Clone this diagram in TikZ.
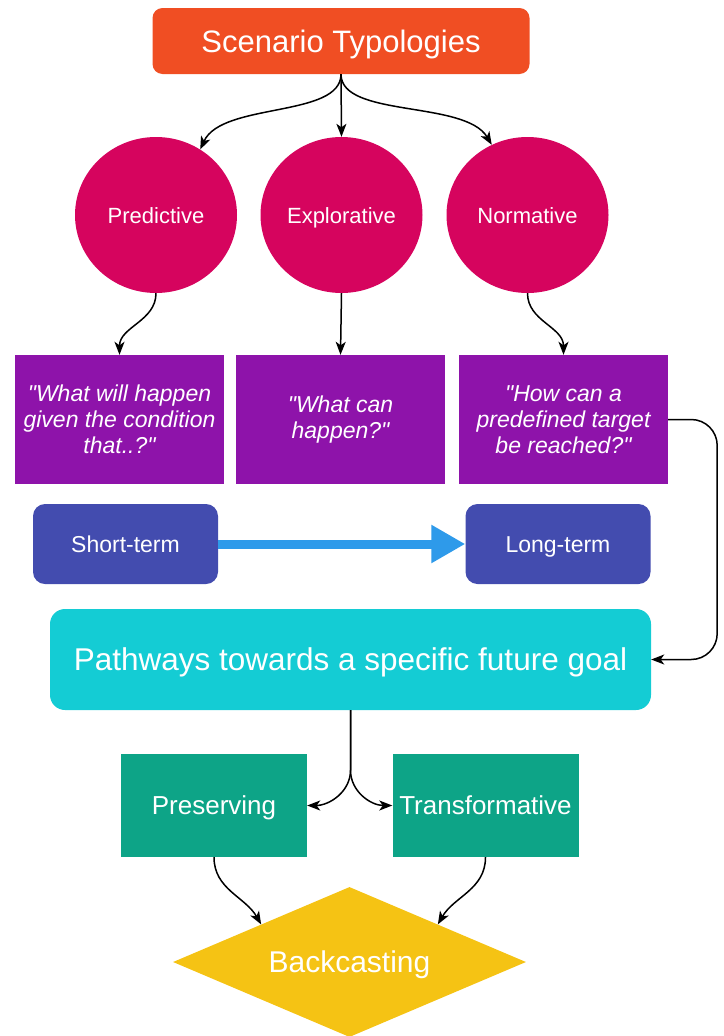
\documentclass[tikz,border=0pt]{standalone}
\usepackage{fontspec}
\setmainfont{Liberation Sans}[Ligatures=TeXOff]
\usepackage{xcolor}
\usetikzlibrary{shapes.geometric,arrows.meta}

\definecolor{typored}{HTML}{F04E23}
\definecolor{typopink}{HTML}{D6045E}
\definecolor{askpurple}{HTML}{8E13AA}
\definecolor{termblue}{HTML}{434CAF}
\definecolor{goalcyan}{HTML}{14CCD4}
\definecolor{optgreen}{HTML}{0DA487}
\definecolor{castyellow}{HTML}{F5C314}
\definecolor{barblue}{HTML}{2E9AEA}

\begin{document}
\begin{tikzpicture}[
    x=1pt, y=1pt,
    head/.style={rectangle, fill=typored, rounded corners=10pt, minimum width=377pt, minimum height=66pt, text=white, text height=22pt, text depth=0pt, font=\fontsize{31}{37}\selectfont},
    typology/.style={ellipse, fill=typopink, minimum width=162pt, minimum height=156pt, inner sep=0pt, text=white, text height=16pt, text depth=0pt, font=\fontsize{22}{26}\selectfont},
    question/.style={rectangle, fill=askpurple, minimum width=209pt, minimum height=129pt, text=white, align=center, font=\fontsize{23}{26}\selectfont\itshape},
    term/.style={rectangle, fill=termblue, rounded corners=12pt, minimum width=185pt, minimum height=80pt, text=white, text height=16.5pt, text depth=0pt, font=\fontsize{23}{27}\selectfont},
    pathway/.style={rectangle, fill=goalcyan, rounded corners=15pt, minimum width=601pt, minimum height=101pt, text=white, text height=22.5pt, text depth=0pt, font=\fontsize{31.5}{37}\selectfont},
    option/.style={rectangle, fill=optgreen, minimum width=186pt, minimum height=103pt, inner sep=0pt, text=white, text height=18.6pt, text depth=0pt, font=\fontsize{26}{31}\selectfont},
    cast/.style={diamond, aspect=2.35, fill=castyellow, minimum width=353pt, minimum height=150pt, inner sep=0pt, text=white, text height=21.5pt, text depth=0pt, font=\fontsize{30}{36}\selectfont},
    link/.style={draw=black, line width=1.5pt, -{Stealth[length=13pt, width=10pt, inset=3.5pt]}},
    bar/.style={draw=barblue, line width=9pt, -{Triangle[length=34pt, width=36pt]}},
]
\useasboundingbox (0,0) rectangle (723,-1036);

% Root
\node[head] (typo) at (341,-41) {Scenario Typologies};

% Typologies
\node[typology] (pred) at (156,-215) {Predictive};
\node[typology] (expl) at (341.5,-215) {Explorative};
\node[typology] (norm) at (527.5,-215) {Normative};

% Guiding questions
\node[question] (q1) at (119.5,-419.5) {"What will happen\\given the condition\\that..?"};
\node[question] (q2) at (340.5,-419.5) {"What can\\happen?"};
\node[question] (q3) at (563.5,-419.5) {"How can a\\predefined target\\be reached?"};

% Time horizon
\node[term] (short) at (125.5,-544) {Short-term};
\node[term] (long) at (558,-544) {Long-term};

% Goal and options
\node[pathway] (goal) at (350.5,-659.5) {Pathways towards a specific future goal};
\node[option] (pres) at (214,-805.5) {Preserving};
\node[option] (trans) at (485.5,-805.5) {Transformative};
\node[cast] (back) at (349.5,-962) {Backcasting};

% Connectors
\draw[link] (typo.south) .. controls (341,-118) and (222,-102) .. (pred.56);
\draw[link] (typo.south) -- (expl.north);
\draw[link] (typo.south) .. controls (341,-118) and (465,-100) .. (norm.117);

\draw[link] (pred.south) to[out=-90, in=90] (q1.north);
\draw[link] (expl.south) -- (q2.north);
\draw[link] (norm.south) to[out=-90, in=90] (q3.north);

\draw[bar] (short.east) -- (long.west);

\draw[link, rounded corners=26pt] (q3.east) -- ++(49,0) |- (goal.east);

\draw[link] (goal.south) -- ++(0,-60) to[out=-90, in=0] (pres.east);
\draw[link] (goal.south) -- ++(0,-60) to[out=-90, in=180] (trans.west);

\draw[link] (pres.south) to[out=-90, in=120] (back.north west);
\draw[link] (trans.south) to[out=-90, in=60] (back.north east);

\end{tikzpicture}
\end{document}
